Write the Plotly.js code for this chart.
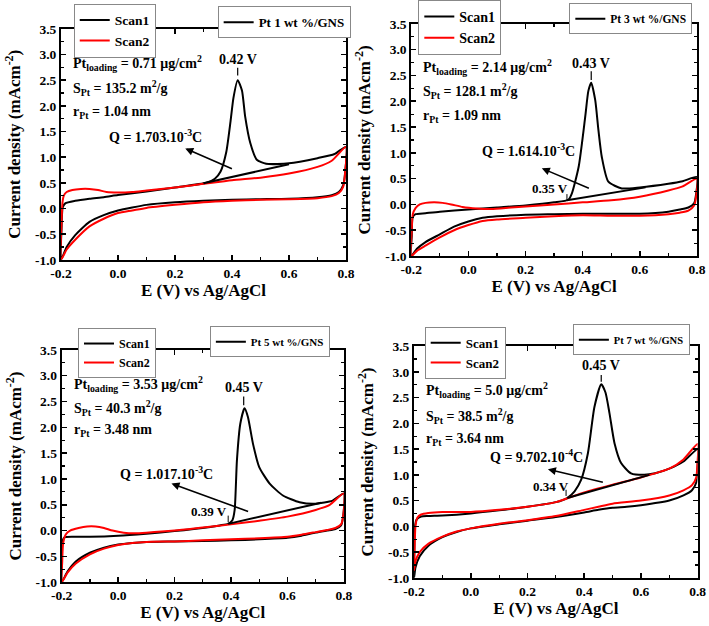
<!DOCTYPE html>
<html>
<head>
<meta charset="utf-8">
<script src="https://cdn.plot.ly/plotly-3.0.1.min.js"></script>
<style>
  body { margin: 0; background: #fff; }
  #myDiv { width: 709px; height: 626px; }
</style>
</head>
<body>
<div id="myDiv"></div>
<script>
// tick labels
const xTickVals = [-0.2, 0.0, 0.2, 0.4, 0.6, 0.8];
const xTickText = ["-0.2", "0.0", "0.2", "0.4", "0.6", "0.8"];
const yTickVals = [-1.0, -0.5, 0.0, 0.5, 1.0, 1.5, 2.0, 2.5, 3.0, 3.5];
const yTickText = ["-1.0", "-0.5", "0.0", "0.5", "1.0", "1.5", "2.0", "2.5", "3.0", "3.5"];

const seriesNames = ["Scan1", "Scan2"];
const sampleNames = ["Pt 1 wt %/GNS", "Pt 3 wt %/GNS", "Pt 5 wt %/GNS", "Pt 7 wt %/GNS"];

// ---- Pt 1 wt % ----
const p1Scan1X = [-0.2, -0.198, -0.194, -0.185, -0.15, -0.1, -0.05, 0.0, 0.1, 0.2, 0.31, 0.34, 0.36, 0.38, 0.395, 0.405, 0.42, 0.435, 0.446, 0.464, 0.487, 0.52, 0.6, 0.7, 0.76, 0.8,
  0.797, 0.79, 0.775, 0.75, 0.7, 0.6, 0.5, 0.4, 0.3, 0.2, 0.1, 0.05, 0.0, -0.05, -0.1, -0.15, -0.18, -0.2];
const p1Scan1Y = [-1.0, -0.4, 0.02, 0.1, 0.15, 0.19, 0.22, 0.26, 0.33, 0.41, 0.5, 0.58, 0.72, 1.1, 1.7, 2.15, 2.5, 2.3, 1.8, 1.28, 0.95, 0.87, 0.88, 0.98, 1.06, 1.2,
  0.7, 0.45, 0.32, 0.26, 0.22, 0.19, 0.18, 0.17, 0.15, 0.12, 0.07, 0.02, -0.04, -0.13, -0.26, -0.52, -0.75, -1.0];
const p1Scan2X = [-0.2, -0.198, -0.195, -0.19, -0.18, -0.16, -0.13, -0.1, -0.07, -0.04, 0.0, 0.05, 0.1, 0.2, 0.3, 0.4, 0.5, 0.6, 0.7, 0.75, 0.8,
  0.797, 0.79, 0.775, 0.75, 0.7, 0.6, 0.5, 0.4, 0.3, 0.2, 0.1, 0.05, 0.0, -0.05, -0.1, -0.15, -0.18, -0.2];
const p1Scan2Y = [-1.0, -0.3, 0.1, 0.25, 0.32, 0.36, 0.38, 0.38, 0.36, 0.32, 0.31, 0.32, 0.35, 0.41, 0.48, 0.55, 0.6, 0.68, 0.81, 0.93, 1.2,
  0.7, 0.42, 0.3, 0.24, 0.2, 0.18, 0.17, 0.15, 0.12, 0.07, 0.01, -0.04, -0.09, -0.2, -0.35, -0.61, -0.8, -1.0];
const p1BaseX = [0.3, 0.6];
const p1BaseY = [0.49, 0.86];

// ---- Pt 3 wt % ----
const p2Scan1X = [-0.2, -0.198, -0.195, -0.185, -0.15, -0.1, 0.0, 0.1, 0.2, 0.3, 0.35, 0.362, 0.386, 0.409, 0.42, 0.43, 0.444, 0.455, 0.467, 0.49, 0.537, 0.6, 0.7, 0.75, 0.8,
  0.797, 0.79, 0.77, 0.74, 0.7, 0.6, 0.5, 0.4, 0.3, 0.2, 0.1, 0.05, 0.0, -0.05, -0.1, -0.15, -0.18, -0.2];
const p2Scan1Y = [-1.0, -0.6, -0.25, -0.19, -0.17, -0.14, -0.1, -0.06, -0.02, 0.04, 0.09, 0.21, 0.73, 1.7, 2.2, 2.36, 2.02, 1.45, 0.92, 0.44, 0.31, 0.33, 0.4, 0.45, 0.53,
  0.2, 0.02, -0.06, -0.1, -0.14, -0.18, -0.18, -0.18, -0.19, -0.2, -0.23, -0.26, -0.33, -0.43, -0.58, -0.73, -0.86, -1.0];
const p2Scan2X = [-0.2, -0.198, -0.195, -0.185, -0.17, -0.15, -0.12, -0.09, -0.06, -0.02, 0.03, 0.08, 0.15, 0.2, 0.3, 0.4, 0.5, 0.6, 0.7, 0.75, 0.8,
  0.797, 0.79, 0.77, 0.74, 0.7, 0.6, 0.5, 0.4, 0.3, 0.2, 0.1, 0.05, 0.0, -0.05, -0.1, -0.15, -0.18, -0.2];
const p2Scan2Y = [-1.0, -0.5, -0.2, -0.07, 0.0, 0.03, 0.04, 0.03, 0.0, -0.05, -0.08, -0.09, -0.06, -0.04, 0.0, 0.04, 0.08, 0.15, 0.27, 0.35, 0.5,
  0.15, -0.02, -0.12, -0.16, -0.19, -0.22, -0.22, -0.21, -0.23, -0.26, -0.29, -0.32, -0.4, -0.5, -0.64, -0.8, -0.9, -1.0];
const p2BaseX = [0.345, 0.62];
const p2BaseY = [0.08, 0.33];

// ---- Pt 5 wt % ----
const p3Scan1X = [-0.2, -0.199, -0.197, -0.19, -0.15, -0.1, 0.0, 0.1, 0.2, 0.3, 0.36, 0.39, 0.405, 0.413, 0.421, 0.433, 0.448, 0.46, 0.478, 0.5, 0.537, 0.584, 0.643, 0.7, 0.76, 0.8,
  0.798, 0.79, 0.77, 0.74, 0.7, 0.65, 0.6, 0.5, 0.4, 0.3, 0.2, 0.1, 0.05, 0.0, -0.05, -0.1, -0.15, -0.18, -0.2];
const p3Scan1Y = [-1.0, -0.5, -0.2, -0.13, -0.12, -0.12, -0.1, -0.06, -0.01, 0.05, 0.1, 0.13, 0.2, 0.4, 1.36, 2.07, 2.37, 2.2, 1.68, 1.23, 0.91, 0.68, 0.55, 0.52, 0.58, 0.72,
  0.3, 0.1, 0.03, 0.0, -0.04, -0.1, -0.14, -0.17, -0.19, -0.2, -0.21, -0.22, -0.24, -0.27, -0.33, -0.43, -0.6, -0.8, -1.0];
const p3Scan2X = [-0.2, -0.198, -0.195, -0.185, -0.17, -0.14, -0.11, -0.08, -0.05, -0.02, 0.02, 0.06, 0.1, 0.2, 0.3, 0.4, 0.5, 0.6, 0.7, 0.75, 0.8,
  0.798, 0.79, 0.77, 0.74, 0.7, 0.65, 0.6, 0.5, 0.4, 0.3, 0.2, 0.1, 0.05, 0.0, -0.05, -0.1, -0.15, -0.18, -0.2];
const p3Scan2Y = [-1.0, -0.6, -0.25, -0.07, 0.0, 0.05, 0.08, 0.08, 0.05, 0.0, -0.04, -0.05, -0.04, 0.0, 0.06, 0.12, 0.19, 0.27, 0.4, 0.5, 0.72,
  0.3, 0.12, 0.05, 0.01, -0.03, -0.08, -0.12, -0.15, -0.17, -0.19, -0.21, -0.22, -0.24, -0.28, -0.35, -0.46, -0.64, -0.82, -1.0];
const p3BaseX = [0.39, 0.72];
const p3BaseY = [0.13, 0.54];

// ---- Pt 7 wt % ----
const p4Scan1X = [-0.2, -0.199, -0.197, -0.19, -0.175, -0.15, -0.1, 0.0, 0.1, 0.2, 0.3, 0.34, 0.366, 0.389, 0.413, 0.436, 0.46, 0.475, 0.489, 0.507, 0.53, 0.565, 0.612, 0.65, 0.7, 0.75, 0.8,
  0.799, 0.795, 0.78, 0.75, 0.7, 0.6, 0.55, 0.5, 0.45, 0.4, 0.3, 0.2, 0.1, 0.0, -0.05, -0.1, -0.15, -0.18, -0.195, -0.2];
const p4Scan1Y = [-1.0, -0.5, 0.0, 0.14, 0.19, 0.2, 0.21, 0.25, 0.31, 0.38, 0.47, 0.55, 0.68, 0.9, 1.42, 2.32, 2.76, 2.6, 2.2, 1.61, 1.23, 1.03, 1.0, 1.03, 1.12, 1.26, 1.5,
  1.1, 0.85, 0.7, 0.6, 0.5, 0.41, 0.38, 0.36, 0.32, 0.27, 0.18, 0.11, 0.04, -0.04, -0.11, -0.21, -0.38, -0.58, -0.8, -1.0];
const p4Scan2X = [-0.2, -0.198, -0.195, -0.188, -0.175, -0.15, -0.1, -0.05, 0.0, 0.1, 0.2, 0.3, 0.4, 0.5, 0.6, 0.7, 0.75, 0.8,
  0.799, 0.795, 0.78, 0.75, 0.7, 0.6, 0.5, 0.45, 0.4, 0.3, 0.2, 0.1, 0.0, -0.05, -0.1, -0.15, -0.18, -0.195, -0.2];
const p4Scan2Y = [-0.85, -0.4, 0.0, 0.17, 0.23, 0.26, 0.28, 0.28, 0.28, 0.32, 0.38, 0.47, 0.66, 0.81, 0.95, 1.12, 1.3, 1.6,
  1.2, 0.95, 0.8, 0.7, 0.6, 0.5, 0.44, 0.38, 0.32, 0.2, 0.12, 0.05, -0.04, -0.1, -0.2, -0.34, -0.5, -0.68, -0.85];
const p4BaseX = [0.34, 0.63];
const p4BaseY = [0.55, 1.0];

// text annotations
const loadingText = ["0.71", "2.14", "3.53", "5.0"];
const areaText = ["135.2", "128.1", "40.3", "38.5"];
const radiusText = ["1.04", "1.09", "3.48", "3.64"];
const peakText = ["0.42 V", "0.43 V", "0.45 V", "0.45 V"];
const chargeText = ["1.703.10<sup>-3</sup>C", "1.614.10<sup>-3</sup>C", "1.017.10<sup>-3</sup>C", "9.702.10<sup>-4</sup>C"];
const onsetText = [null, "0.35 V", "0.39 V", "0.34 V"];

const serif = "Liberation Serif, Times New Roman, serif";

const panels = [
  { s1x: p1Scan1X, s1y: p1Scan1Y, s2x: p1Scan2X, s2y: p1Scan2Y, bx: p1BaseX, by: p1BaseY,
    dom: [[0.086, 0.488], [0.585, 0.954]], leg: [[0.104, 0.994], [0.307, 0.990]], legSize: [13.5, 13],
    text: [2.84, 2.35, 1.86], peak: [0.42, 2.9, 2.74, 2.59], q: [0.13, 1.41], arrow: [0.236, 1.17, 0.405, 0.76], onset: null },
  { s1x: p2Scan1X, s1y: p2Scan1Y, s2x: p2Scan2X, s2y: p2Scan2Y, bx: p2BaseX, by: p2BaseY,
    dom: [[0.580, 0.983], [0.591, 0.962]], leg: [[0.590, 1.0], [0.803, 0.995]], legSize: [14, 11.5],
    text: [2.67, 2.19, 1.70], peak: [0.43, 2.74, 2.58, 2.41], q: [0.21, 1.06], arrow: [0.257, 0.70, 0.427, 0.30], onset: [0.287, 0.30, 0.345, 0.2, 0.08] },
  { s1x: p3Scan1X, s1y: p3Scan1Y, s2x: p3Scan2X, s2y: p3Scan2Y, bx: p3BaseX, by: p3BaseY,
    dom: [[0.087, 0.485], [0.070, 0.441]], leg: [[0.110, 0.476], [0.296, 0.479]], legSize: [12, 11],
    text: [2.84, 2.38, 1.93], peak: [0.445, 2.77, 2.6, 2.43], q: [0.171, 1.12], arrow: [0.189, 0.91, 0.466, 0.36], onset: [0.322, 0.36, 0.39, 0.29, 0.16] },
  { s1x: p4Scan1X, s1y: p4Scan1Y, s2x: p4Scan2X, s2y: p4Scan2Y, bx: p4BaseX, by: p4BaseY,
    dom: [[0.584, 0.984], [0.077, 0.447]], leg: [[0.599, 0.478], [0.808, 0.482]], legSize: [13, 10.5],
    text: [2.65, 2.14, 1.69], peak: [0.46, 3.13, 2.94, 2.81], q: [0.23, 1.36], arrow: [0.272, 1.11, 0.471, 0.85], onset: [0.284, 0.77, 0.336, 0.71, 0.59] }
];

let data = [];
let layout = {
  width: 709,
  height: 626,
  margin: { l: 0, r: 0, t: 0, b: 0 },
  paper_bgcolor: "white",
  plot_bgcolor: "white",
  font: { family: serif, color: "black", size: 13, weight: "bold" },
  annotations: [],
  shapes: []
};

panels.forEach((p, i) => {
  let n = i + 1;
  let xa = n === 1 ? "x" : "x" + n;
  let ya = n === 1 ? "y" : "y" + n;
  let legA = i === 0 ? "legend" : "legend" + (2 * i + 1);
  let legB = "legend" + (2 * i + 2);

  data.push({
    x: p.s1x, y: p.s1y, xaxis: xa, yaxis: ya, mode: "lines", name: seriesNames[0],
    line: { color: "black", width: 2, shape: "spline", smoothing: 0.6 }, legend: legA
  });
  data.push({
    x: p.s2x, y: p.s2y, xaxis: xa, yaxis: ya, mode: "lines", name: seriesNames[1],
    line: { color: "#ff0000", width: 2, shape: "spline", smoothing: 0.6 }, legend: legA
  });
  data.push({
    x: p.bx, y: p.by, xaxis: xa, yaxis: ya, mode: "lines", showlegend: false,
    line: { color: "black", width: 2 }, hoverinfo: "skip"
  });
  data.push({
    x: [null], y: [null], xaxis: xa, yaxis: ya, mode: "lines", name: sampleNames[i],
    line: { color: "black", width: 2 }, legend: legB
  });

  let axKey = n === 1 ? "xaxis" : "xaxis" + n;
  let ayKey = n === 1 ? "yaxis" : "yaxis" + n;

  layout[axKey] = {
    domain: p.dom[0], anchor: ya, range: [-0.2, 0.8],
    tickmode: "array", tickvals: xTickVals, ticktext: xTickText,
    ticks: "inside", ticklen: 5, tickwidth: 1.5, tickcolor: "black",
    minor: { ticks: "inside", ticklen: 3, tickcolor: "black", tickwidth: 1.2, dtick: 0.1, tick0: -0.2 },
    showline: true, linecolor: "black", linewidth: 2, mirror: "allticks",
    showgrid: false, zeroline: false,
    tickfont: { family: serif, size: 13.5, weight: "bold" },
    title: { text: "E (V) vs Ag/AgCl", font: { family: serif, size: 17, weight: "bold" }, standoff: 4 }
  };
  layout[ayKey] = {
    domain: p.dom[1], anchor: xa, range: [-1.0, 3.5],
    tickmode: "array", tickvals: yTickVals, ticktext: yTickText,
    ticks: "inside", ticklen: 5, tickwidth: 1.5, tickcolor: "black",
    minor: { ticks: "inside", ticklen: 3, tickcolor: "black", tickwidth: 1.2, dtick: 0.25, tick0: -1 },
    showline: true, linecolor: "black", linewidth: 2, mirror: "allticks",
    showgrid: false, zeroline: false,
    tickfont: { family: serif, size: 13.5, weight: "bold" },
    title: { text: "Current density (mAcm<sup>-2</sup>)", font: { family: serif, size: 17, weight: "bold" }, standoff: 10 }
  };

  let legStyle = {
    xanchor: "left", yanchor: "top", bgcolor: "white",
    bordercolor: "#888", borderwidth: 1, tracegroupgap: 0
  };
  layout[legA] = Object.assign({}, legStyle, {
    x: p.leg[0][0], y: p.leg[0][1], font: { family: serif, size: p.legSize[0], weight: "bold" }
  });
  layout[legB] = Object.assign({}, legStyle, {
    x: p.leg[1][0], y: p.leg[1][1], font: { family: serif, size: p.legSize[1], weight: "bold" }
  });

  let tfont = { family: serif, size: 14, weight: "bold", color: "black" };
  let lines = [
    "Pt<sub>loading</sub> = " + loadingText[i] + " μg/cm<sup>2</sup>",
    "S<sub>Pt</sub> = " + areaText[i] + " m<sup>2</sup>/g",
    "r<sub>Pt</sub> = " + radiusText[i] + " nm"
  ];
  lines.forEach((t, k) => {
    layout.annotations.push({
      xref: xa, yref: ya, x: -0.165, y: p.text[k], text: t, showarrow: false,
      xanchor: "left", yanchor: "middle", font: tfont
    });
  });
  layout.annotations.push({
    xref: xa, yref: ya, x: p.peak[0], y: p.peak[1], text: peakText[i], showarrow: false,
    xanchor: "center", yanchor: "middle", font: tfont
  });
  layout.shapes.push({
    type: "line", xref: xa, yref: ya, x0: p.peak[0], x1: p.peak[0], y0: p.peak[2], y1: p.peak[3],
    line: { color: "black", width: 1.2 }
  });
  layout.annotations.push({
    xref: xa, yref: ya, x: p.q[0], y: p.q[1], text: "Q = " + chargeText[i], showarrow: false,
    xanchor: "center", yanchor: "middle", font: tfont
  });
  layout.annotations.push({
    xref: xa, yref: ya, axref: xa, ayref: ya,
    x: p.arrow[0], y: p.arrow[1], ax: p.arrow[2], ay: p.arrow[3], text: "",
    showarrow: true, arrowhead: 2, arrowsize: 1, arrowwidth: 1.6, arrowcolor: "black"
  });
  if (p.onset) {
    layout.annotations.push({
      xref: xa, yref: ya, x: p.onset[0], y: p.onset[1], text: onsetText[i], showarrow: false,
      xanchor: "center", yanchor: "middle", font: { family: serif, size: 13, weight: "bold", color: "black" }
    });
    layout.shapes.push({
      type: "line", xref: xa, yref: ya, x0: p.onset[2], x1: p.onset[2], y0: p.onset[3], y1: p.onset[4],
      line: { color: "black", width: 1 }
    });
  }
});

Plotly.newPlot("myDiv", data, layout, { displayModeBar: false, staticPlot: true });
</script>
</body>
</html>
